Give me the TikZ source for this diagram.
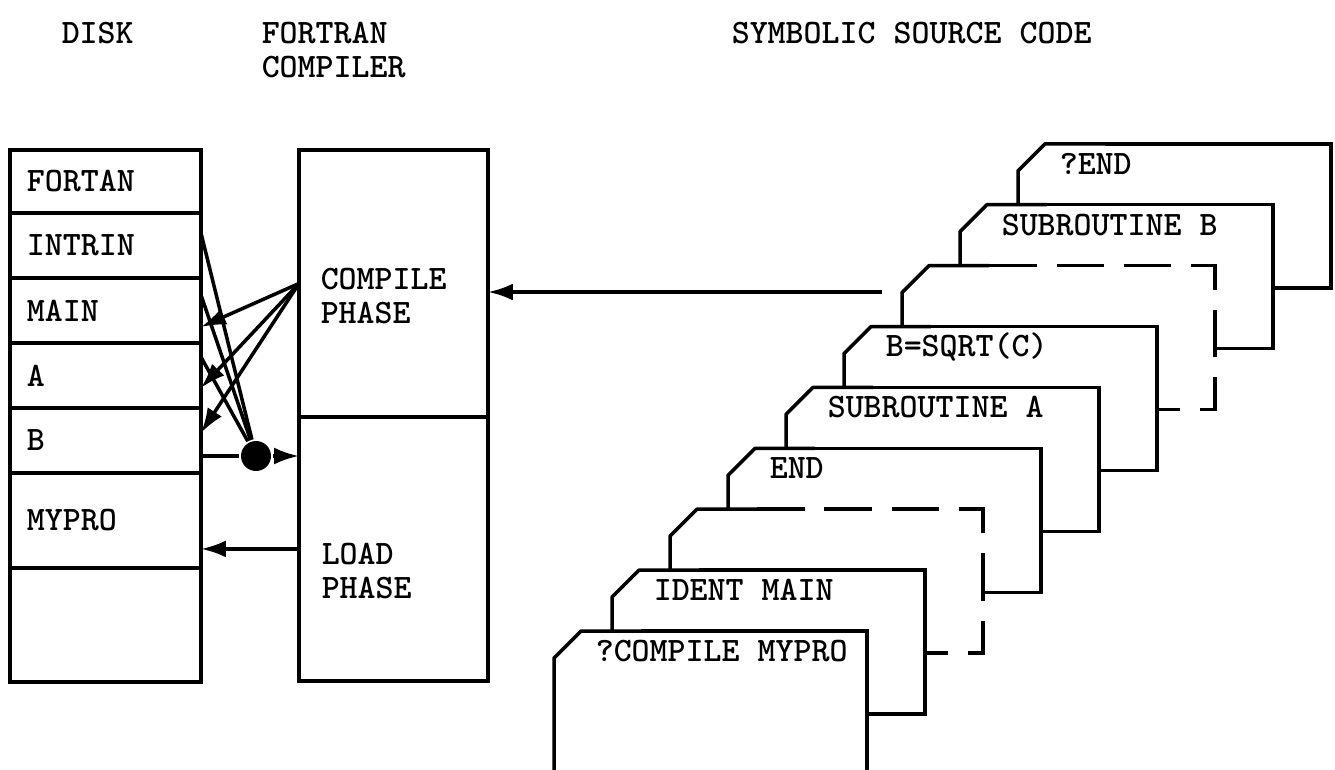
\documentclass[tikz,border=0pt]{standalone}
\usetikzlibrary{arrows.meta, positioning, calc}

\begin{document}
\begin{tikzpicture}[x=0.02cm, y=-0.02cm, line width=2pt,
        font=\fontsize{19.5}{19.5}\selectfont\ttfamily\bfseries,
        row/.style={draw, outer sep=0pt, minimum width=3.82cm, text width=3.14cm, inner xsep=0.34cm, align=left},
        phase/.style={draw, outer sep=0pt, minimum width=3.78cm},
        arrowline/.style={-{Latex[length=0.5cm, width=0.34cm]}},
        gapped/.style={dash pattern=on 0.95cm off 0.4cm}]
        \useasboundingbox (0,0) rectangle (1335,769);
        % headings
        \node[anchor=north west, inner sep=0pt] (disk) at (60,20) {DISK};
        \node[anchor=north west, inner sep=0pt, align=left] (fortran) at (260,20) {FORTRAN\\COMPILER};
        \node[anchor=north west, inner sep=0pt] (symbolic) at (730,20) {SYMBOLIC SOURCE CODE};
        % disk
        \node[row, minimum height=1.26cm, anchor=north west] (fortan) at (10,150) {FORTAN};
        \node[row, minimum height=1.3cm, below=0pt of fortan] (intrin) {INTRIN};
        \node[row, minimum height=1.3cm, below=0pt of intrin] (main) {MAIN};
        \node[row, minimum height=1.3cm, below=0pt of main] (rowa) {A};
        \node[row, minimum height=1.3cm, below=0pt of rowa] (rowb) {B};
        \node[row, minimum height=1.9cm, below=0pt of rowb] (mypro) {MYPRO};
        \node[row, minimum height=2.28cm, below=0pt of mypro] (spare) {};
        % compiler
        \node[phase, minimum height=5.34cm, anchor=north west] (compile) at (299,150) {};
        \node[phase, minimum height=5.28cm, below=0pt of compile] (load) {};
        \node[anchor=west, align=left, inner sep=0pt] (compiletxt) at ([xshift=0.4cm, yshift=-0.25cm]compile.west) {COMPILE\\PHASE};
        \node[anchor=west, align=left, inner sep=0pt] (loadtxt) at ([xshift=0.42cm, yshift=-0.44cm]load.west) {LOAD\\PHASE};
        % source cards, back to front
        \foreach \i/\txt/\kind in {8/?END/solid, 7/SUBROUTINE B/solid, 6//gapped, 5/B=SQRT(C)/solid,
                4/SUBROUTINE A/solid, 3/END/solid, 2//gapped, 1/IDENT MAIN/solid, 0/?COMPILE MYPRO/solid}{
            \pgfmathsetmacro\hb{\i==0 ? 790 : 775}
            \begin{scope}[shift={(58*\i,-60.9*\i)}]
                \fill[white] (554,\hb) -- (554,658) -- (581,631) -- (867,631) -- (867,\hb) -- cycle;
                \draw[line join=round] (554,\hb) -- (554,658) -- (581,631) -- (641,631);
                \draw[\kind] (641,631) -- (867,631) -- (867,\hb) -- (554,\hb);
                \node[anchor=west, inner sep=0pt] (card\i) at (594,651) {\txt};
            \end{scope}
        }
        % flows
        \coordinate (deck) at (882,292);
        \draw[arrowline] (deck) -- (deck -| compile.east);
        \foreach \tgt/\dy in {main/-0.33cm, rowa/-0.25cm, rowb/0.15cm}
            \draw[arrowline] (compile.west) -- ([yshift=\dy]\tgt.east);
        \node[circle, fill, inner sep=0pt, minimum size=0.6cm] (join) at (256,456) {};
        \draw ([yshift=0.25cm]intrin.east) -- (join);
        \draw ([yshift=0.31cm]main.east) -- (join);
        \draw ([yshift=0.37cm]rowa.east) -- (join);
        \draw (join -| rowb.east) -- (join);
        \draw[arrowline] (join) -- (join -| load.west);
        \draw[arrowline] (load.west) -- (load.west -| mypro.east);
    \end{tikzpicture}
\end{document}
